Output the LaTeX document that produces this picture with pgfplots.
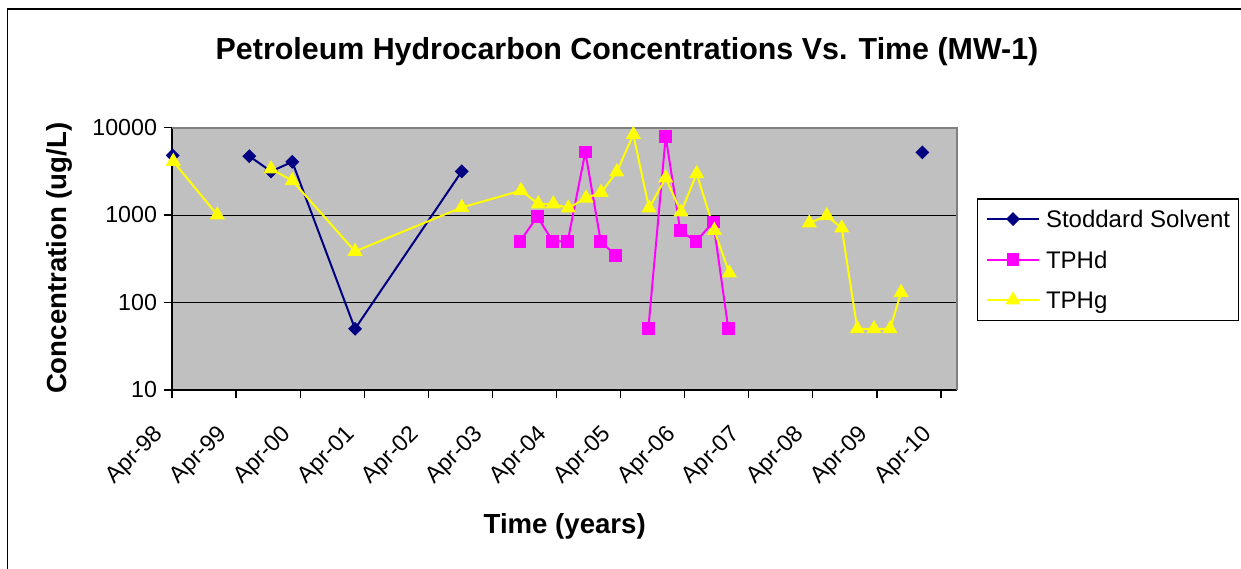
\documentclass[border=0pt]{standalone}
\usepackage{pgfplots}
\pgfplotsset{compat=1.18}
\usepackage{fontspec}
\setmainfont{Liberation Sans}
\definecolor{ssnavy}{RGB}{0,0,128}
\definecolor{tphd}{RGB}{255,0,255}
\definecolor{tphg}{RGB}{255,255,0}
\definecolor{plotgray}{RGB}{192,192,192}
\definecolor{framegray}{RGB}{128,128,128}
\begin{document}
\begin{tikzpicture}
\useasboundingbox (0,0) rectangle (620.5pt,284pt);
\fill[white] (0,0) rectangle (620.5pt,284pt);
\draw[black, line width=0.6pt] (3.75pt,-10pt) -- (3.75pt,279.5pt) -- (640pt,279.5pt);
\node[font=\bfseries\fontsize{15.2}{18}\selectfont, anchor=base, inner sep=0pt] at (313.5pt,254pt) {Petroleum Hydrocarbon Concentrations Vs. Time (MW-1)};
\node[font=\bfseries\fontsize{13.8}{16}\selectfont, rotate=90, anchor=base, inner sep=0pt] at (33pt,154.85pt) {Concentration (ug/L)};
\node[font=\bfseries\fontsize{13.8}{16}\selectfont, anchor=base, inner sep=0pt] at (282.35pt,17.5pt) {Time (years)};
\begin{axis}[
  at={(86pt,89pt)}, anchor=south west, scale only axis,
  width=392.35pt, height=131.25pt,
  xmin=0, xmax=12.245, ymode=log, ymin=10, ymax=10000,
  xtick={0,...,12},
  xticklabels={Apr-98,Apr-99,Apr-00,Apr-01,Apr-02,Apr-03,Apr-04,Apr-05,Apr-06,Apr-07,Apr-08,Apr-09,Apr-10},
  ytick={10,100,1000,10000}, yticklabels={10,100,1000,10000},
  yminorticks=false, xminorticks=false,
  axis lines*=left, axis line style={-, black, line width=0.6pt},
  tick align=outside, major tick length=4pt, tick style={black, line width=0.6pt},
  ymajorgrids, grid style={black, line width=0.5pt},
  axis background/.style={fill=plotgray},
  clip=false, unbounded coords=jump,
  yticklabel style={font=\fontsize{11.6}{13}\selectfont},
  xticklabel style={font=\fontsize{11.6}{13}\selectfont, inner sep=0pt, xshift=-10pt, yshift=-12.5pt, rotate=45, anchor=north east},
  legend style={at={(1.026,0.730)}, anchor=north west, draw=black, line width=0.6pt,
    font=\fontsize{12}{14}\selectfont, inner xsep=4pt, inner ysep=3.3pt,
    row sep=6.75pt, nodes={inner sep=0pt, text height=11pt, text depth=2.5pt},
    /tikz/every odd column/.append style={column sep=2.85pt}},
  legend cell align=left,
  legend image code/.code={\draw[mark repeat=2, mark phase=2, #1] plot coordinates {(0pt,0pt) (13.15pt,0pt) (26.3pt,0pt)};},
]
\addplot[color=ssnavy, line width=1pt, mark=square*, mark size=1.95pt, mark options={rotate=45, solid}]
  coordinates {(0.011,4800) (0.6,nan) (1.206,4700) (1.545,3150) (1.877,4050) (2.856,50) (4.521,3150) (8,nan) (11.709,5200)};
\addlegendentry{Stoddard Solvent}
\addplot[color=tphd, line width=1pt, mark=square*, mark size=2.7pt, mark options={solid}]
  coordinates {(5.431,500) (5.701,960) (5.941,500) (6.175,500) (6.450,5250) (6.690,500) (6.924,345) (7.2,nan) (7.433,50) (7.704,7900) (7.932,660) (8.177,500) (8.447,830) (8.681,50)};
\addlegendentry{TPHd}
\addplot[color=tphg, line width=1pt, mark=triangle*, mark size=3.4pt, mark options={solid}]
  coordinates {(0.02,4100) (0.707,1000) (1.1,nan) (1.545,3360) (1.877,2470) (2.856,384) (4.521,1220) (5.446,1900) (5.716,1340) (5.950,1340) (6.184,1200) (6.461,1560) (6.695,1810) (6.940,3100) (7.199,8300) (7.444,1200) (7.704,2650) (7.943,1080) (8.188,2970) (8.463,667) (8.697,217) (9.3,nan) (9.945,810) (10.217,980) (10.451,710) (10.694,50) (10.955,50) (11.205,50) (11.377,130)};
\addlegendentry{TPHg}
\draw[framegray, line width=1pt] (rel axis cs:0,1) -- (rel axis cs:1,1) -- (rel axis cs:1,0);
\end{axis}
\end{tikzpicture}
\end{document}
